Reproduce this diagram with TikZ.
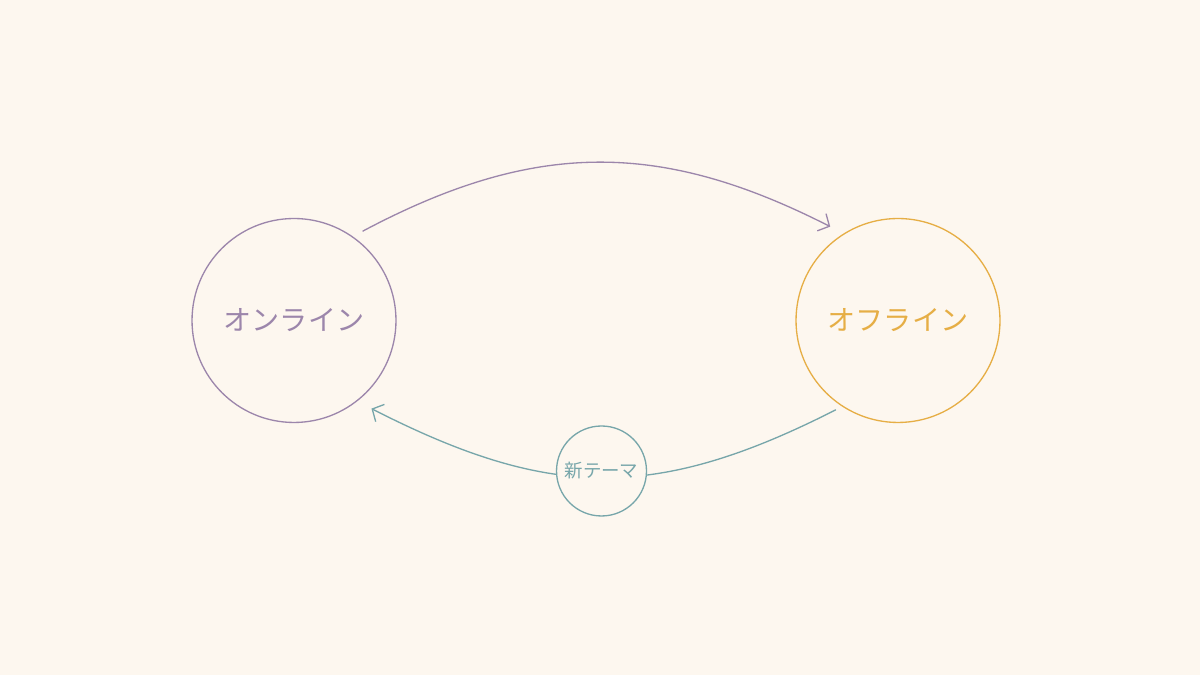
\documentclass[tikz,border=0pt]{standalone}
\usepackage{fontspec}
\newfontfamily\jpfont{Noto Sans CJK JP}
\usetikzlibrary{arrows.meta}
\definecolor{cream}{HTML}{FDF7EF}
\definecolor{lilac}{HTML}{9C86AB}
\definecolor{amber}{HTML}{E6AE45}
\definecolor{sage}{HTML}{77A6AA}
\tikzset{
  place/.style={
      circle,
      draw,
      line width=0.75pt,
      minimum size=4.08cm,
      inner sep=0pt,
      font=\jpfont\fontsize{16}{19}\selectfont
  },
  topic/.style={
      circle,
      draw=sage,
      text=sage,
      line width=0.75pt,
      minimum size=1.8cm,
      inner sep=0pt,
      fill=cream,
      font=\jpfont\fontsize{10.5}{12}\selectfont
  },
  flow/.style={-{Straight Barb[length=5pt,width=11pt]}, line width=0.75pt}
}
\begin{document}
\begin{tikzpicture}[x=0.02cm, y=0.02cm]
      \fill[cream] (0,0) rectangle (1200,675);
      \useasboundingbox (0,0) rectangle (1200,675);
      % The two states
      \node (online) [place, draw=lilac, text=lilac] at (294,354.5) {オンライン};
      \node (offline) [place, draw=amber, text=amber] at (898,354.5) {オフライン};
      % Connections
      \draw[flow, lilac, shorten <=0.22cm, shorten >=0.3cm] (online.55) to[out=28, in=153, looseness=1.07] (offline.122);
      \draw[flow, sage, shorten <=0.14cm, shorten >=0.32cm] (offline.237) to[out=207, in=-27, looseness=1.12] (online.-52);
      % Topic on the way back
      \node (newtopic) [topic] at (601.5,204) {新テーマ};
\end{tikzpicture}
\end{document}
